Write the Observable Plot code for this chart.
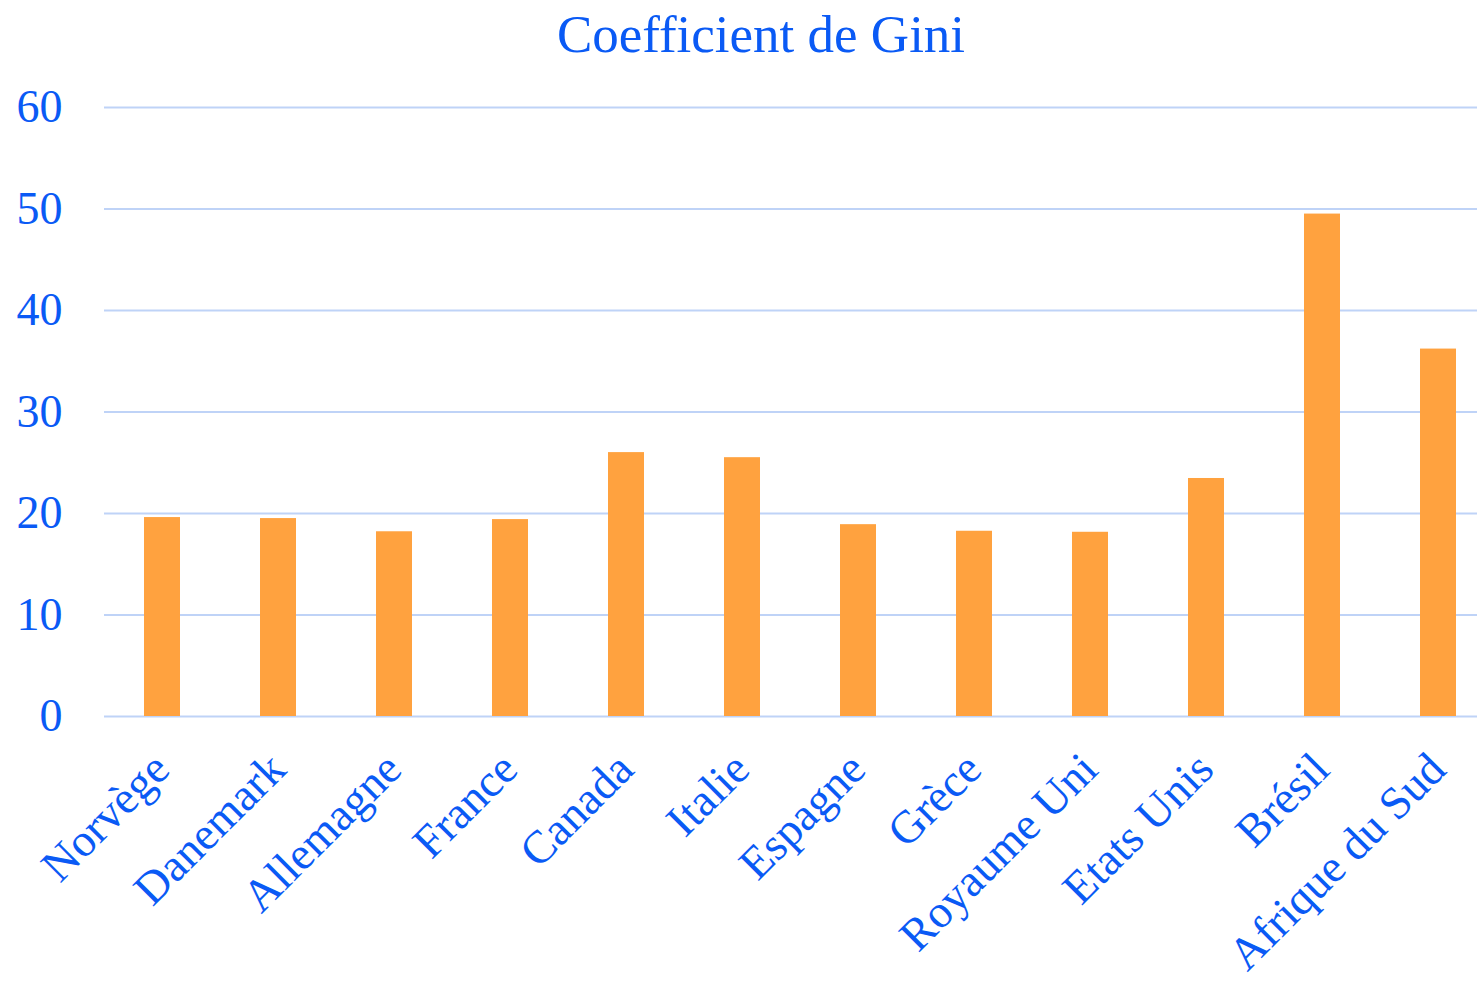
<!DOCTYPE html>
<html>
<head>
<meta charset="utf-8">
<script src="https://cdn.jsdelivr.net/npm/d3@7"></script>
<script src="https://cdn.jsdelivr.net/npm/@observablehq/plot@0.6"></script>
<style>
  html, body { margin: 0; padding: 0; background: #fff; }
  #wrap { position: relative; width: 1477px; height: 983px; overflow: hidden; }
  #title { position: absolute; top: 8px; left: 261px; width: 1000px; text-align: center;
           font-family: "Liberation Serif", "Times New Roman", serif; font-size: 53px; line-height: 1;
           color: #0a5af5; }
  #chart { position: absolute; top: 0; left: 0; }
</style>
</head>
<body>
<div id="wrap">
  <div id="chart"></div>
  <div id="title">Coefficient de Gini</div>
</div>
<script>
const countries = ["Norvège", "Danemark", "Allemagne", "France", "Canada", "Italie", "Espagne", "Grèce", "Royaume Uni", "Etats Unis", "Brésil", "Afrique du Sud"];
const gini = [19.6, 19.5, 18.2, 19.4, 26.0, 25.5, 18.9, 18.25, 18.15, 23.45, 49.5, 36.2];
const yTicks = [0, 10, 20, 30, 40, 50, 60];

const data = countries.map((c, i) => ({country: c, value: gini[i]}));
const blue = "#0a5af5";

const chart = Plot.plot({
  width: 1477,
  height: 983,
  marginLeft: 104,
  marginRight: 0,
  marginTop: 107,
  marginBottom: 267,
  style: {fontFamily: "'Liberation Serif', 'Times New Roman', serif", fontSize: "46px", color: blue, background: "transparent"},
  x: {domain: countries, range: [104, 1496], paddingInner: 0.69, paddingOuter: 0.345},
  y: {domain: [0, 60]},
  marks: [
    Plot.ruleY(yTicks, {stroke: "#bfd3f7", strokeWidth: 2}),
    Plot.barY(data, {x: "country", y: "value", fill: "#ffa23f"}),
    Plot.axisY({ticks: yTicks, tickSize: 0, tickPadding: 42, fill: blue, label: null, fontSize: 46}),
    Plot.axisX({tickSize: 0, tickRotate: -45, tickPadding: 45, dx: -1, fill: blue, label: null, fontSize: 46})
  ]
});
document.getElementById("chart").appendChild(chart);
</script>
</body>
</html>
